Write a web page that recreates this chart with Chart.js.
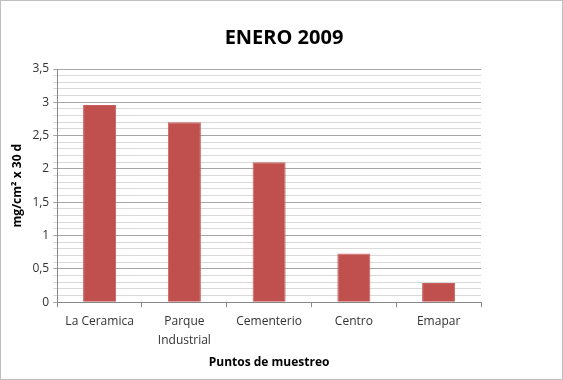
<!DOCTYPE html>
<html>
<head>
<meta charset="utf-8">
<script src="https://cdn.jsdelivr.net/npm/chart.js@4"></script>
<style>
  body { margin: 0; background: #fff; }
  #wrap { width: 563px; height: 380px; box-sizing: border-box; border: 1px solid #bfbfbf; }
</style>
</head>
<body>
<div id="wrap"><canvas id="enero" width="561" height="378"></canvas></div>
<script>
const puntos = [['La Ceramica'], ['Parque', 'Industrial'], ['Cementerio'], ['Centro'], ['Emapar']];
const valores = [2.96, 2.70, 2.10, 0.73, 0.29];

const fuente = "'Open Sans', 'Liberation Sans', sans-serif";

const ctx = document.getElementById('enero').getContext('2d');

const myChart = new Chart(ctx, {
    type: 'bar',
    data: {
        labels: puntos,
        datasets: [{
            label: 'Enero 2009',
            data: valores,
            backgroundColor: '#c0504d',
            borderColor: '#c9605d',
            borderWidth: 1,
            categoryPercentage: 1,
            barPercentage: 0.39
        }]
    },
    options: {
        responsive: false,
        animation: false,
        layout: { padding: { top: 12, right: 0, bottom: 5, left: 5 } },
        scales: {
            x: {
                grid: {
                    offset: true,
                    drawOnChartArea: false,
                    drawTicks: true,
                    tickLength: 5,
                    color: '#888'
                },
                border: { color: '#888' },
                ticks: {
                    color: '#333',
                    font: { family: fuente, size: 12, lineHeight: 1.6 },
                    padding: 5,
                    maxRotation: 0
                },
                title: {
                    display: true,
                    text: 'Puntos de muestreo',
                    color: '#000',
                    font: { family: fuente, size: 12, weight: 'bold' },
                    padding: { top: 0 }
                }
            },
            y: {
                min: 0,
                max: 3.5,
                border: { color: '#888' },
                grid: {
                    color: (c) => Math.round(c.tick.value * 10) % 5 === 0 ? '#a6a6a6' : '#d9d9d9',
                    lineWidth: 1,
                    tickLength: 4
                },
                ticks: {
                    stepSize: 0.1,
                    autoSkip: false,
                    color: '#333',
                    font: { family: fuente, size: 12 },
                    padding: 4,
                    callback: function (v) {
                        const d = Math.round(v * 10);
                        if (d % 5 !== 0) return '';
                        return (d / 10).toString().replace('.', ',');
                    }
                },
                title: {
                    display: true,
                    text: 'mg/cm² x 30 d',
                    color: '#000',
                    font: { family: fuente, size: 12, weight: 'bold' },
                    padding: { bottom: 4 }
                }
            },
            derecha: {
                position: 'right',
                min: 0,
                max: 3.5,
                grid: { drawOnChartArea: false, drawTicks: false },
                border: { display: false },
                ticks: { display: false },
                afterFit: (s) => { s.width = 81; }
            }
        },
        plugins: {
            legend: { display: false },
            tooltip: { enabled: false },
            title: {
                display: true,
                text: 'ENERO 2009',
                color: '#000',
                font: { family: fuente, size: 20, weight: 'bold' },
                padding: { top: 13, bottom: 19 }
            }
        }
    }
});
</script>
</body>
</html>
